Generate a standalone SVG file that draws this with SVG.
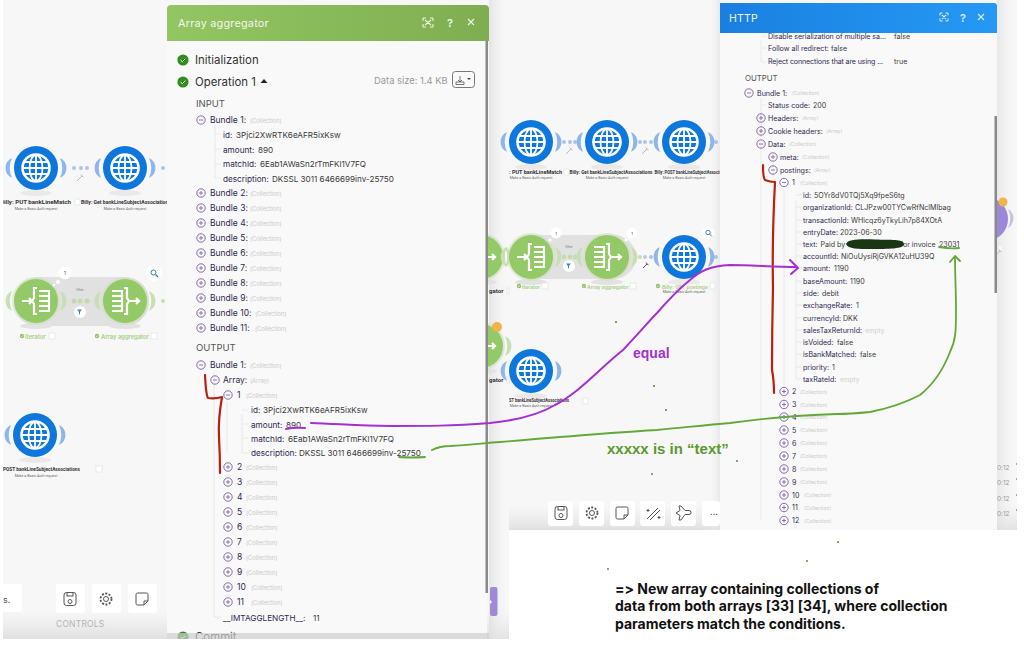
<svg xmlns="http://www.w3.org/2000/svg" xmlns:xlink="http://www.w3.org/1999/xlink" width="1024" height="653" viewBox="0 0 1024 653">
<style>
text{font-family:Inter,"Liberation Sans",sans-serif;font-variant-ligatures:none}
.k{font-size:8.200px;fill:#2f2a52}
.kb{font-size:8.500px}
.v{font-size:8.150px;fill:#3a3a3a}
.c{font-size:5.800px;fill:#c9c9c9}
#panel-http .k,#panel-http .v{font-size:7.100px}
#panel-http .c{font-size:5px}
#panel-http .e{font-size:6.500px;fill:#d0d0d0}
.sec{font-size:9.500px;fill:#555}
.st{font-size:11.400px;fill:#333}
.t{font-size:10.800px;fill:#f2f7ec;letter-spacing:.25px}
.nl{font-family:Roboto,"Liberation Sans",sans-serif;font-size:6.100px;font-weight:700;fill:#333}
.gl{font-size:5.800px;font-weight:600;fill:#a3cf7f}
.gm{font-size:5.050px;font-weight:600;fill:#a3cf7f}
.sub{font-family:Roboto,"Liberation Sans",sans-serif;font-size:3.600px;fill:#666;text-anchor:middle}
.tb{fill:#fff}
.ic{fill:none;stroke:#555;stroke-width:1}
.tree{stroke:#e4e4e4;stroke-width:.8;fill:none}
.b{fill:#fff;stroke:#ddd;stroke-width:.6}
.red{fill:none;stroke:#b8200f;stroke-width:2.200;stroke-linecap:round;stroke-linejoin:round}
.pur{fill:none;stroke:#a52fd0;stroke-width:2;stroke-linecap:round;stroke-linejoin:round}
.grn{fill:none;stroke:#62a83a;stroke-width:1.800;stroke-linecap:round;stroke-linejoin:round}
.a{font-family:"Liberation Sans",Arial,sans-serif;font-weight:700}
.dot{fill:#5f7a2a}
</style>
<defs>
<linearGradient id="hg" x1="0" x2="1" y1="0" y2="0"><stop offset="0" stop-color="#93c662"/><stop offset="1" stop-color="#7fae50"/></linearGradient>
<linearGradient id="hb" x1="0" x2="1" y1="0" y2="0"><stop offset="0" stop-color="#1a80e0"/><stop offset="1" stop-color="#2599f5"/></linearGradient>
<linearGradient id="sh" x1="0" x2="1" y1="0" y2="0"><stop offset="0" stop-color="#dedede"/><stop offset="1" stop-color="#f7f7f7" stop-opacity="0"/></linearGradient>
<linearGradient id="shl" x1="1" x2="0" y1="0" y2="0"><stop offset="0" stop-color="#dedede"/><stop offset="1" stop-color="#f7f7f7" stop-opacity="0"/></linearGradient>
<linearGradient id="bt" x1="0" x2="0" y1="0" y2="1"><stop offset="0" stop-color="#e8e8e8" stop-opacity="0"/><stop offset="1" stop-color="#e0e0e0"/></linearGradient>
<g id="plus"><circle r="4.200" fill="none" stroke="#7a5aa6" stroke-width=".9"/><path d="M-2 0H2M0-2V2" stroke="#7a5aa6" stroke-width=".8"/></g>
<g id="minus"><circle r="4.200" fill="none" stroke="#7a5aa6" stroke-width=".9"/><path d="M-2 0H2" stroke="#7a5aa6" stroke-width=".8"/></g>
<g id="chk"><circle r="5.600" fill="#2f8d1e"/><path d="M-2.400 0L-.7 1.700L2.400-1.400" fill="none" stroke="#fff" stroke-width="1"/></g>
<g id="sc"><circle r="2.200" fill="#8fc266"/><path d="M-1-.1L-.2.8L1-.8" fill="none" stroke="#fff" stroke-width=".6"/></g>
<g id="globe">
<ellipse cx="0" cy="25" rx="16" ry="3" fill="#e9e9e9"/>
<path d="M24-10A11 11 0 0 1 24 10A24 24 0 0 0 24-10Z" fill="#8fb6e8"/>
<path d="M-24-10A11 11 0 0 0-24 10A24 24 0 0 1-24-10Z" fill="#8fb6e8"/>
<circle r="22" fill="#0d77db"/>
<g fill="none" stroke="#fff"><circle r="13.500" stroke-width="2.600"/><ellipse rx="6.500" ry="13" stroke-width="1.800"/><path d="M0-13V13M-13 0H13M-11.500-6H11.500M-11.500 6H11.500" stroke-width="1.800"/></g>
</g>
<g id="iter">
<ellipse cx="0" cy="25" rx="16" ry="3" fill="#e2e2e2"/>
<path d="M24-10A11 11 0 0 1 24 10A24 24 0 0 0 24-10Z" fill="#c7dfb2"/>
<path d="M-24-10A11 11 0 0 0-24 10A24 24 0 0 1-24-10Z" fill="#c7dfb2"/>
<circle r="24" fill="#cfe0c0" opacity=".6"/>
<circle r="22" fill="#94c967"/>
<g fill="none" stroke="#fff" stroke-width="2.200"><path d="M-14 0H-4M-7-3L-4 0L-7 3"/><path d="M1-13H-2V-3L-4 0L-2 3V13H1"/><path d="M3-10H13V10H3M3-5H13M3 0H13M3 5H13"/></g>
</g>
<g id="agg">
<ellipse cx="0" cy="25" rx="16" ry="3" fill="#e2e2e2"/>
<path d="M24-10A11 11 0 0 1 24 10A24 24 0 0 0 24-10Z" fill="#c7dfb2"/>
<path d="M-24-10A11 11 0 0 0-24 10A24 24 0 0 1-24-10Z" fill="#c7dfb2"/>
<circle r="24" fill="#cfe0c0" opacity=".6"/>
<circle r="22" fill="#94c967"/>
<g fill="none" stroke="#fff" stroke-width="2.200"><path d="M-13-10H-3V10H-13M-13-5H-3M-13 0H-3M-13 5H-3"/><path d="M-1-13H2V-3L4 0L2 3V13H-1"/><path d="M4 0H14M11-3L14 0L11 3"/></g>
</g>
<g id="wr"><path d="M-3 3L2-2M2-2L1-3.500M2-2L3.500-1" fill="none" stroke="#bbb" stroke-width="1"/></g>
<g id="fb"><circle r="6" fill="#fff"/><path d="M-3-2.500H2L0 0V2.500L-1 2V0Z" fill="#3a86c8"/></g>
<g id="sv"><rect x="-6" y="-6.500" width="12" height="13" rx="2.500" class="ic"/><rect x="-3" y="-6.500" width="6" height="3.500" class="ic"/><circle cy="2.500" r="2" class="ic"/></g>
<g id="cg"><circle r="2.500" class="ic"/><circle r="5.500" fill="none" stroke="#555" stroke-width="1.800" stroke-dasharray="2 1.500"/></g>
<g id="nt"><path d="M-6-4.500A1.500 1.500 0 0 1-4.500-6H4.500A1.500 1.500 0 0 1 6-4.500V2L2 6H-4.500A1.500 1.500 0 0 1-6 4.500ZM6 2H2V6" class="ic"/></g>
<g id="wd"><path d="M-6 6L5-5M-3 7L7-3M-5-4V-1M-6.500-2.500H-3.500M6 3V6M4.500 4.500H7.500" class="ic"/></g>
<g id="pl"><path d="M-7 0L-3-2.500L-4-7H-2L2-2.500H6A1.500 1.500 0 0 1 6 1.500H2L-2 7H-4L-3 2.500Z" class="ic"/></g>
</defs>

<rect width="1024" height="653" fill="#fff"/>
<rect x="3" width="506" height="639" fill="#f7f7f7"/>
<rect x="509" width="508" height="530" fill="#f7f7f7"/>
<rect x="3" y="610" width="506" height="29" fill="url(#bt)"/>
<rect x="509" y="505" width="508" height="25" fill="url(#bt)"/>
<rect x="489" y="0" width="20" height="639" fill="url(#sh)" opacity=".75"/>
<rect x="997" y="0" width="20" height="530" fill="url(#sh)" opacity=".6"/>
<rect x="708" y="0" width="12" height="530" fill="url(#shl)" opacity=".6"/>

<g id="connectors-flow" fill="#aac4e6">
<circle cx="74" cy="168" r="2"/><circle cx="81" cy="168" r="2"/><circle cx="87" cy="168" r="2"/><circle cx="163" cy="168" r="2"/>
<circle cx="564" cy="142" r="2"/><circle cx="570" cy="142" r="2"/><circle cx="575" cy="142" r="2"/>
<circle cx="640" cy="142" r="2"/><circle cx="645" cy="142" r="2"/><circle cx="651" cy="142" r="2"/><circle cx="716" cy="142" r="2"/>
<circle cx="716" cy="257" r="2"/><circle cx="640" cy="257" r="2" fill="#c7dfb2"/><circle cx="645" cy="257" r="2" fill="#b9cde0"/><circle cx="651" cy="257" r="2"/>
<circle cx="163" cy="301" r="2" fill="#c7dfb2"/>
<use href="#wr" x="80" y="178"/><use href="#wr" x="569" y="151"/><use href="#wr" x="645" y="151"/>
</g>

<g id="filter-left"><rect x="14" y="277" width="135" height="49" rx="24" fill="#e1e1e1"/>
<circle cx="74" cy="301" r="2.500" fill="#c3d9ae"/><circle cx="80" cy="301" r="2.500" fill="#c3d9ae"/><circle cx="87" cy="301" r="2.500" fill="#c3d9ae"/>
<text x="80" y="291" font-size="3.500" fill="#777" text-anchor="middle">filter</text><use href="#fb" x="80" y="312"/></g>
<g id="filter-mid"><rect x="509" y="235" width="127" height="44" rx="22" fill="#e1e1e1"/>
<circle cx="564" cy="257" r="2.200" fill="#c3d9ae"/><circle cx="570" cy="257" r="2.200" fill="#c3d9ae"/><circle cx="575" cy="257" r="2.200" fill="#c3d9ae"/>
<text x="569" y="248" font-size="3.500" fill="#777" text-anchor="middle">filter</text><use href="#fb" x="569" y="266"/></g>

<g id="n-put-left"><use href="#globe" x="36" y="168"/><text class="nl" x="0" y="204" textLength="71" lengthAdjust="spacingAndGlyphs">Billy: PUT bankLineMatch</text><rect class="b" x="75" y="199" width="5" height="6"/><text class="sub" x="36" y="210">Make a Basic Auth request</text></g>
<g id="n-get-left"><use href="#globe" x="125" y="168"/><text class="nl" x="81" y="204" textLength="90" lengthAdjust="spacingAndGlyphs">Billy: Get bankLineSubjectAssociations</text><text class="sub" x="125" y="210">Make a Basic Auth request</text></g>
<g id="n-iter-left"><use href="#iter" x="36" y="301"/><circle cx="65" cy="273" r="6.500" fill="#fff"/><circle cx="58" cy="282" r="2" fill="#fff"/><circle cx="54" cy="285" r="1.200" fill="#fff"/><text x="65" y="275" font-size="4.500" text-anchor="middle" fill="#444">1</text>
<use href="#sc" x="22" y="336"/><text class="gl" x="25" y="338.500">Iterator</text><rect class="b" x="49" y="333" width="6" height="6"/></g>
<g id="n-agg-left"><use href="#agg" x="125" y="301"/><circle cx="154" cy="273" r="8" fill="#fff"/><circle cx="153.500" cy="272.500" r="2.500" fill="none" stroke="#2f7fb3" stroke-width="1"/><path d="M155.500 274.500L158 277" stroke="#2f7fb3" stroke-width="1.200"/>
<use href="#sc" x="97" y="336"/><text class="gl" x="101" y="338.500">Array aggregator</text><rect class="b" x="151" y="333" width="6" height="6"/></g>
<g id="n-post-left"><use href="#globe" x="35" y="435"/><text class="nl" x="3" y="471" textLength="77" lengthAdjust="spacingAndGlyphs">POST bankLineSubjectAssociations</text><rect class="b" x="96" y="466" width="6" height="6"/><text class="sub" x="36" y="477">Make a Basic Auth request</text></g>

<g id="n-peek-a"><use href="#agg" x="481" y="257"/><text class="nl" x="489" y="293">gator</text><rect class="b" x="507" y="288" width="2" height="6"/></g>
<g id="n-peek-b"><use href="#agg" x="481" y="346"/><circle cx="497" cy="327" r="5" fill="#f2b24c"/><text class="nl" x="489" y="382">gator</text><rect class="b" x="507" y="377" width="2" height="6"/></g>

<g id="n-put-mid"><use href="#globe" x="531" y="142"/><text class="nl" x="509" y="174" textLength="53" lengthAdjust="spacingAndGlyphs">: PUT bankLineMatch</text><rect class="b" x="564" y="169" width="5" height="6"/><text class="sub" x="531" y="179">Make a Basic Auth request</text></g>
<g id="n-get-mid"><use href="#globe" x="607" y="142"/><text class="nl" x="569.500" y="174" textLength="83" lengthAdjust="spacingAndGlyphs">Billy: Get bankLineSubjectAssociations</text><text class="sub" x="607" y="179">Make a Basic Auth request</text></g>
<g id="n-post-mid"><use href="#globe" x="684" y="142"/><text class="nl" x="654.500" y="174" textLength="76" lengthAdjust="spacingAndGlyphs">Billy: POST bankLineSubjectAssociations</text><text class="sub" x="684" y="179">Make a Basic Auth request</text></g>
<g id="n-iter-mid"><use href="#iter" x="531" y="257"/><circle cx="556" cy="233" r="5.500" fill="#fff"/><circle cx="550" cy="240" r="1.500" fill="#fff"/><text x="556" y="235" font-size="4" text-anchor="middle" fill="#444">1</text>
<use href="#sc" x="519" y="286"/><text class="gm" x="522" y="288.500">Iterator</text><rect class="b" x="542" y="283" width="6" height="6"/></g>
<g id="n-agg-mid"><use href="#agg" x="607" y="257"/><circle cx="632" cy="233" r="5.500" fill="#fff"/><circle cx="626" cy="240" r="1.500" fill="#fff"/><text x="632" y="235" font-size="4" text-anchor="middle" fill="#444">1</text>
<use href="#sc" x="584" y="286"/><text class="gm" x="587" y="288.500">Array aggregator</text><rect class="b" x="630" y="283" width="6" height="6"/></g>
<g id="n-getpost-mid"><use href="#globe" x="684" y="257"/><circle cx="708" cy="233" r="6.500" fill="#fff"/><circle cx="708" cy="232.500" r="2.200" fill="none" stroke="#2f7fb3" stroke-width=".9"/><path d="M709.500 234L712 236.500" stroke="#2f7fb3"/>
<path d="M643 268L647 264M647 264L646 262.500M647 264L648.500 265" fill="none" stroke="#555" stroke-width="1"/>
<use href="#sc" x="658" y="286"/><text class="gm" x="662" y="288.500">Billy: GET postings</text><rect class="b" x="710" y="283" width="5" height="6"/><text class="sub" x="684" y="293">Make a Basic Auth request</text></g>
<g id="n-post-mid2"><use href="#globe" x="531" y="371"/><text class="nl" x="509" y="402" textLength="60" lengthAdjust="spacingAndGlyphs">ST bankLineSubjectAssociations</text><rect class="b" x="583" y="398" width="5" height="6"/><text class="sub" x="531" y="407">Make a Basic Auth request</text></g>

<g id="toolbar-left">
<rect class="tb" x="3" y="584" width="19" height="28" rx="3"/><text x="3" y="603" font-size="9" fill="#555">s.</text>
<rect class="tb" x="56" y="584" width="29" height="29" rx="3"/><use href="#sv" x="70" y="599"/>
<rect class="tb" x="92" y="584" width="29" height="29" rx="3"/><use href="#cg" x="106" y="599"/>
<rect class="tb" x="128" y="584" width="29" height="29" rx="3"/><use href="#nt" x="142" y="599"/>
<text x="56" y="627" font-size="8.500" fill="#b4b4b4" letter-spacing=".2">CONTROLS</text>
</g>
<g id="toolbar-mid">
<rect class="tb" x="548" y="501" width="25" height="25" rx="3"/><use href="#sv" x="561" y="513"/>
<rect class="tb" x="579" y="501" width="25" height="25" rx="3"/><use href="#cg" x="592" y="513"/>
<rect class="tb" x="610" y="501" width="25" height="25" rx="3"/><use href="#nt" x="622" y="513"/>
<rect class="tb" x="640" y="501" width="25" height="25" rx="3"/><use href="#wd" x="653" y="513"/>
<rect class="tb" x="671" y="501" width="25" height="25" rx="3"/><use href="#pl" x="683" y="513"/>
<rect class="tb" x="702" y="501" width="18" height="25" rx="3"/><text x="714" y="515" font-size="9" fill="#555" text-anchor="middle">...</text>
<rect x="490" y="587" width="7.500" height="29" rx="2" fill="#a08ad8"/><path d="M490 600l2 2l-2 2z" fill="#fff"/>
</g>

<g id="n-purple-right"><path d="M1008 209A11 11 0 0 1 1008 228A22 22 0 0 0 1008 209Z" fill="#c9bfe6"/><circle cx="986" cy="219" r="22" fill="#9c88d8"/><circle cx="1003" cy="202" r="4.500" fill="#f2b24c"/><rect class="b" x="998" y="245" width="5" height="6" opacity=".5"/><use href="#wr" x="998" y="253"/>
<g font-size="6.500" fill="#999"><text x="997" y="470">0:12</text><text x="997" y="485">0:12</text><text x="997" y="501">0:12</text><text x="997" y="516">0:12</text></g>
<path d="M1016 464h1M1016 479h1M1016 495h1M1016 510h1" stroke="#555"/>
</g>

<!-- Array aggregator panel -->
<g id="panel-array-aggregator">
<rect x="167" y="5" width="320" height="634" fill="#f9f9f9"/>
<path d="M167 41V9A4 4 0 0 1 171 5H485A4 4 0 0 1 489 9V41Z" fill="url(#hg)"/>
<text class="t" x="178" y="26.500">Array aggregator</text>
<g fill="none" stroke="#eef6e4" stroke-width="1.100"><path d="M423 18h3M423 18v3M433 18h-3M433 18v3M423 27h3M423 27v-3M433 27h-3M433 27v-3M425 20l6 5M431 20l-6 5"/><path d="M468 19l6 6M474 19l-6 6"/></g>
<text x="450" y="26.500" font-size="11" font-weight="600" fill="#eef6e4" text-anchor="middle">?</text>
<rect x="485.500" y="41" width="2.500" height="552" fill="#8a8a8a"/>
<use href="#chk" x="183" y="60"/><text class="st" x="195" y="64">Initialization</text>
<use href="#chk" x="183" y="82"/><text class="st" x="195" y="86">Operation 1</text><path d="M260.500 83L264 79L267.500 83Z" fill="#222"/>
<text x="374" y="83.500" font-size="9.400" fill="#999">Data size: 1.4 KB</text>
<rect x="452.500" y="71.500" width="22" height="16" rx="3" fill="none" stroke="#777"/><path d="M456 82v2.500h8V82h-8M460 76v6M458 80l2 2l2-2" fill="none" stroke="#555" stroke-width=".8"/><path d="M467 78h4l-2 2z" fill="#444"/>

<text class="sec" x="196" y="106.500">INPUT</text>
<path class="tree" d="M215 124V178H221M215 134H221M215 149H221M215 164H221"/>
<use href="#minus" x="201" y="120"/><text class="k kb" x="210" y="123">Bundle 1:</text><text class="c" x="250" y="122.500">(Collection)</text>
<text class="k" x="223" y="137.500">id:</text><text class="v" x="236" y="137.500">3Pjci2XwRTK6eAFR5ixKsw</text>
<text class="k" x="223" y="152.500">amount:</text><text class="v" x="258" y="152.500">890</text>
<text class="k" x="223" y="167">matchId:</text><text class="v" x="260" y="167">6Eab1AWaSn2rTmFKl1V7FQ</text>
<text class="k" x="223" y="181.500">description:</text><text class="v" x="272" y="181.500">DKSSL 3011 6466699inv-25750</text>
<use href="#plus" x="201" y="193"/><text class="k kb" x="210" y="196">Bundle 2:</text><text class="c" x="250" y="195.500">(Collection)</text>
<use href="#plus" x="201" y="208"/><text class="k kb" x="210" y="211">Bundle 3:</text><text class="c" x="250" y="210.500">(Collection)</text>
<use href="#plus" x="201" y="223"/><text class="k kb" x="210" y="226">Bundle 4:</text><text class="c" x="250" y="225.500">(Collection)</text>
<use href="#plus" x="201" y="238"/><text class="k kb" x="210" y="241">Bundle 5:</text><text class="c" x="250" y="240.500">(Collection)</text>
<use href="#plus" x="201" y="253"/><text class="k kb" x="210" y="256">Bundle 6:</text><text class="c" x="250" y="255.500">(Collection)</text>
<use href="#plus" x="201" y="268"/><text class="k kb" x="210" y="271">Bundle 7:</text><text class="c" x="250" y="270.500">(Collection)</text>
<use href="#plus" x="201" y="283"/><text class="k kb" x="210" y="286">Bundle 8:</text><text class="c" x="250" y="285.500">(Collection)</text>
<use href="#plus" x="201" y="298"/><text class="k kb" x="210" y="301">Bundle 9:</text><text class="c" x="250" y="300.500">(Collection)</text>
<use href="#plus" x="201" y="313"/><text class="k kb" x="210" y="316">Bundle 10:</text><text class="c" x="255" y="315.500">(Collection)</text>
<use href="#plus" x="201" y="328"/><text class="k kb" x="210" y="331">Bundle 11:</text><text class="c" x="255" y="330.500">(Collection)</text>

<text class="sec" x="196" y="351">OUTPUT</text>
<path class="tree" d="M214 372V617H221M227 402V452M242 414V453H248M242 410H248M242 424H248M242 438H248"/>
<use href="#minus" x="201" y="365"/><text class="k kb" x="210" y="368">Bundle 1:</text><text class="c" x="250" y="367.500">(Collection)</text>
<use href="#minus" x="215" y="380"/><text class="k kb" x="223" y="383">Array:</text><text class="c" x="250" y="382.500">(Array)</text>
<use href="#minus" x="228" y="395"/><text class="k kb" x="237" y="398">1</text><text class="c" x="246" y="397.500">(Collection)</text>
<text class="k" x="251" y="413">id:</text><text class="v" x="263" y="413">3Pjci2XwRTK6eAFR5ixKsw</text>
<text class="k" x="251" y="427.500">amount:</text><text class="v" x="286" y="427.500">890</text>
<text class="k" x="251" y="441.500">matchId:</text><text class="v" x="288" y="441.500">6Eab1AWaSn2rTmFKl1V7FQ</text>
<text class="k" x="251" y="456">description:</text><text class="v" x="299" y="456">DKSSL 3011 6466699inv-25750</text>
<use href="#plus" x="228" y="467"/><text class="k kb" x="237" y="470">2</text><text class="c" x="246" y="469.500">(Collection)</text>
<use href="#plus" x="228" y="482"/><text class="k kb" x="237" y="485">3</text><text class="c" x="246" y="484.500">(Collection)</text>
<use href="#plus" x="228" y="497"/><text class="k kb" x="237" y="500">4</text><text class="c" x="246" y="499.500">(Collection)</text>
<use href="#plus" x="228" y="512"/><text class="k kb" x="237" y="515">5</text><text class="c" x="246" y="514.500">(Collection)</text>
<use href="#plus" x="228" y="527"/><text class="k kb" x="237" y="530">6</text><text class="c" x="246" y="529.500">(Collection)</text>
<use href="#plus" x="228" y="542"/><text class="k kb" x="237" y="545">7</text><text class="c" x="246" y="544.500">(Collection)</text>
<use href="#plus" x="228" y="557"/><text class="k kb" x="237" y="560">8</text><text class="c" x="246" y="559.500">(Collection)</text>
<use href="#plus" x="228" y="572"/><text class="k kb" x="237" y="575">9</text><text class="c" x="246" y="574.500">(Collection)</text>
<use href="#plus" x="228" y="587"/><text class="k kb" x="237" y="590">10</text><text class="c" x="251" y="589.500">(Collection)</text>
<use href="#plus" x="228" y="602"/><text class="k kb" x="237" y="605">11</text><text class="c" x="251" y="604.500">(Collection)</text>
<text class="k" x="223" y="620.500">__IMTAGGLENGTH__:</text><text class="v" x="313" y="620.500">11</text>
<use href="#chk" x="183" y="637"/><text class="st" x="195" y="641">Commit</text>
<rect x="167" y="633" width="322" height="6" fill="#cfcfcf" opacity=".7"/>
<rect x="167" y="639" width="322" height="14" fill="#fff"/>
</g>

<!-- HTTP panel -->
<g id="panel-http">
<rect x="720" y="3" width="277" height="527" fill="#f9f9f9"/>
<path d="M720 33V3H994A3 3 0 0 1 997 6V33Z" fill="url(#hb)"/>
<text class="t" x="729" y="21.500" style="font-size:10.500px">HTTP</text>
<g fill="none" stroke="#d8ecff" stroke-width="1.100"><path d="M940 13h2.500M940 13v2.500M948 13h-2.500M948 13v2.500M940 21h2.500M940 21v-2.500M948 21h-2.500M948 21v-2.500M942 15l4 4M946 15l-4 4"/><path d="M978 14l6 6M984 14l-6 6"/></g>
<text x="963" y="21.500" font-size="11" font-weight="600" fill="#d8ecff" text-anchor="middle">?</text>
<rect x="994.500" y="116" width="2.500" height="177" fill="#8a8a8a"/>
<path class="tree" d="M761 98V137M761 105H766M761 40V62M761 48H766M761 62H766M761 36H766M761 144V520M773 163V176M784 188V386M796 200V379H802M796 195H802M796 207H802M796 220H802M796 232H802M796 244H802M796 256H802M796 268H802M796 281H802M796 293H802M796 305H802M796 318H802M796 330H802M796 342H802M796 354H802M796 367H802"/>
<text class="k" x="768" y="39" textLength="118">Disable serialization of multiple sa...</text><text class="v" x="894" y="39">false</text>
<text class="k" x="768" y="51">Follow all redirect:</text><text class="v" x="831" y="51">false</text>
<text class="k" x="768" y="63.500" textLength="115">Reject connections that are using ...</text><text class="v" x="894" y="63.500">true</text>
<text class="sec" x="745" y="81" style="font-size:7.800px">OUTPUT</text>
<use href="#minus" x="749" y="93"/><text class="k" x="757" y="95.500">Bundle 1:</text><text class="c" x="792" y="95">(Collection)</text>
<text class="k" x="768" y="108">Status code:</text><text class="v" x="813" y="108">200</text>
<use href="#plus" x="761" y="118"/><text class="k" x="768" y="120.500">Headers:</text><text class="c" x="802" y="120">(Array)</text>
<use href="#plus" x="761" y="131"/><text class="k" x="768" y="133.500">Cookie headers:</text><text class="c" x="826" y="133">(Array)</text>
<use href="#minus" x="761" y="144"/><text class="k" x="768" y="146.500">Data:</text><text class="c" x="789" y="146">(Collection)</text>
<use href="#plus" x="773" y="157"/><text class="k" x="780" y="159.500">meta:</text><text class="c" x="802" y="159">(Collection)</text>
<use href="#minus" x="773" y="170"/><text class="k" x="780" y="172.500">postings:</text><text class="c" x="814" y="172">(Array)</text>
<use href="#minus" x="784" y="182.500"/><text class="k" x="792" y="185">1</text><text class="c" x="800" y="184.500">(Collection)</text>
<text class="k" x="803" y="197.500">id:</text><text class="v" x="814" y="197.500">5OYr8dV0TQj5Xq9fpeS6tg</text>
<text class="k" x="803" y="210">organizationId:</text><text class="v" x="855" y="210">CLJPzw00TYCwRfNclMlbag</text>
<text class="k" x="803" y="222.500">transactionId:</text><text class="v" x="851" y="222.500">WHicqz6yTkyLih7p84XOtA</text>
<text class="k" x="803" y="234.500">entryDate:</text><text class="v" x="840" y="234.500">2023-06-30</text>
<text class="k" x="803" y="246.500">text:</text><text class="v" x="820.500" y="246.500">Paid by</text><text class="v" x="900.500" y="246.500">for invoice</text><text class="v" x="939" y="246.500">23031</text>
<path d="M846 244C848 239 860 239 875 239.500C890 240 904 239 904 244C904 249 888 249 872 249C858 249 848 249 846 244Z" fill="#183712"/>
<text class="k" x="803" y="259">accountId:</text><text class="v" x="841" y="259">NiOuUysiRjGVKA12uHU39Q</text>
<text class="k" x="803" y="271">amount:</text><text class="v" x="834" y="271">1190</text>
<text class="k" x="803" y="283.500">baseAmount:</text><text class="v" x="850" y="283.500">1190</text>
<text class="k" x="803" y="296">side:</text><text class="v" x="822" y="296">debit</text>
<text class="k" x="803" y="308">exchangeRate:</text><text class="v" x="856" y="308">1</text>
<text class="k" x="803" y="320.500">currencyId:</text><text class="v" x="843" y="320.500">DKK</text>
<text class="k" x="803" y="332.500">salesTaxReturnId:</text><text class="e" x="865" y="332.500">empty</text>
<text class="k" x="803" y="345">isVoided:</text><text class="v" x="837" y="345">false</text>
<text class="k" x="803" y="357">isBankMatched:</text><text class="v" x="860" y="357">false</text>
<text class="k" x="803" y="369.500">priority:</text><text class="v" x="832" y="369.500">1</text>
<text class="k" x="803" y="381.500">taxRateId:</text><text class="e" x="840" y="381.500">empty</text>
<use href="#plus" x="784" y="391.500"/><text class="k" x="792" y="394">2</text><text class="c" x="800" y="393.500">(Collection)</text>
<use href="#plus" x="784" y="404.500"/><text class="k" x="792" y="407">3</text><text class="c" x="800" y="406.500">(Collection)</text>
<use href="#plus" x="784" y="417"/><text class="k" x="792" y="419.500">4</text><text class="c" x="800" y="419">(Collection)</text>
<use href="#plus" x="784" y="430"/><text class="k" x="792" y="432.500">5</text><text class="c" x="800" y="432">(Collection)</text>
<use href="#plus" x="784" y="443"/><text class="k" x="792" y="445.500">6</text><text class="c" x="800" y="445">(Collection)</text>
<use href="#plus" x="784" y="456"/><text class="k" x="792" y="458.500">7</text><text class="c" x="800" y="458">(Collection)</text>
<use href="#plus" x="784" y="469"/><text class="k" x="792" y="471.500">8</text><text class="c" x="800" y="471">(Collection)</text>
<use href="#plus" x="784" y="482"/><text class="k" x="792" y="484.500">9</text><text class="c" x="800" y="484">(Collection)</text>
<use href="#plus" x="784" y="495"/><text class="k" x="792" y="497.500">10</text><text class="c" x="804" y="497">(Collection)</text>
<use href="#plus" x="784" y="507.500"/><text class="k" x="792" y="510">11</text><text class="c" x="804" y="509.500">(Collection)</text>
<use href="#plus" x="784" y="520.500"/><text class="k" x="792" y="523">12</text><text class="c" x="804" y="522.500">(Collection)</text>
</g>

<g id="connectors">
<path class="red" d="M205 375Q206 395 208 398Q215 399 222 397Q218 420 219 437Q220 455 220 473"/>
<path class="red" d="M763 165Q763 178 765 180Q770 182 775 182Q772 240 773 287Q772 330 772 370Q774 380 774 393"/>
<path class="pur" d="M286 429Q295 427 305 428"/>
<path class="pur" d="M311 423C340 424 360 426 390 426C430 426 450 426 490 423C520 420 540 414 555 405C580 392 600 368 623 350C640 332 650 320 657 313C670 298 680 288 690 280C700 271 710 266 730 265C750 265 775 267 797 267"/>
<path class="pur" d="M790 260L798 268L791 274"/>
<path class="grn" d="M399 457Q412 458 425 457"/>
<path class="grn" d="M432 450Q440 446 450 446C470 445 485 443 500 442C560 437 620 432 657 430C680 428 705 425 730 423C760 419 800 415 837 414C850 414 860 413 870 412C890 408 905 403 920 395C935 383 945 365 950 352C956 340 956 330 956 310C956 290 955 275 955 257"/>
<path class="grn" d="M950 262L955 256L960 261"/>
<path class="grn" d="M939 247Q950 249 959 248"/>
</g>

<g id="annotations">
<text class="a" x="633" y="358" font-size="14" fill="#a52fd0">equal</text>
<text class="a" x="607" y="454" font-size="15" fill="#5b9a2f">xxxxx is in “text”</text>
<g class="a" font-size="14" fill="#111"><text x="615" y="594">=&gt; New array containing collections of</text><text x="615" y="611">data from both arrays [33] [34], where collection</text><text x="615" y="628.500">parameters match the conditions.</text></g>
<circle class="dot" cx="616" cy="322" r="1"/><circle class="dot" cx="654" cy="386" r="1"/><circle class="dot" cx="666" cy="410" r="1"/><circle class="dot" cx="737" cy="461" r=".9"/><circle class="dot" cx="652" cy="474" r=".9"/><circle class="dot" cx="838" cy="542" r=".9"/><circle class="dot" cx="807" cy="561" r=".9"/><circle class="dot" cx="608" cy="569" r=".9"/>
</g>
<rect x="0" y="0" width="3" height="653" fill="#fff"/>
</svg>
